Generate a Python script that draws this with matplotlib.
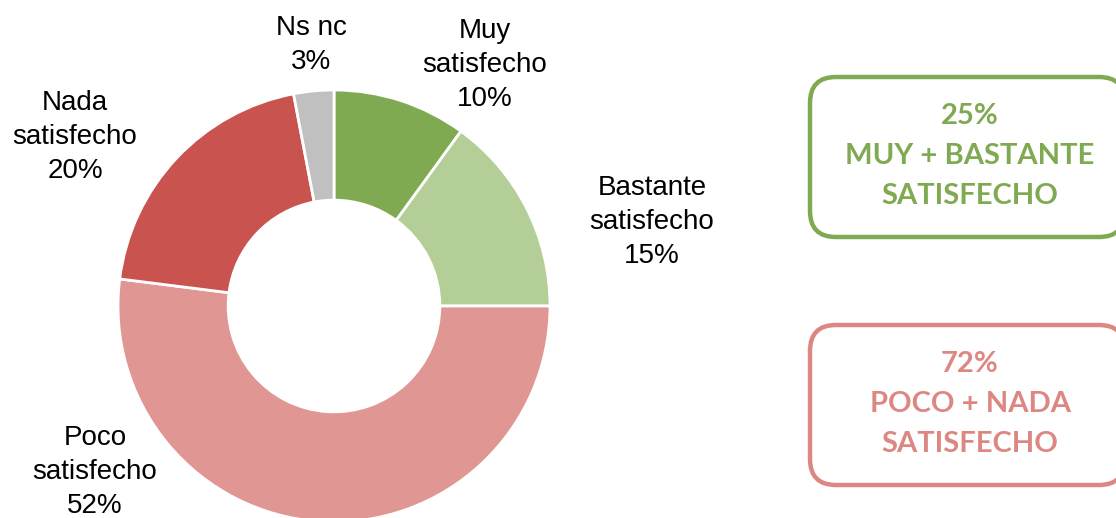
import matplotlib.pyplot as plt
from matplotlib.patches import FancyBboxPatch

# slices, clockwise from the top
labels = ["Muy\nsatisfecho", "Bastante\nsatisfecho", "Poco\nsatisfecho", "Nada\nsatisfecho", "Ns nc"]
values = [10, 15, 52, 20, 3]
colors = ["#7FAA52", "#B3CF97", "#E09794", "#C9534F", "#C0C0C0"]

# label positions in pixels (x, y from top)
label_pos = [(485, 65), (652, 222), (95, 472), (75, 137), (311, 45)]

box_texts = ["25%\nMUY + BASTANTE\nSATISFECHO", "72%\nPOCO + NADA\nSATISFECHO"]
box_colors = ["#7FAA52", "#DC8782"]

W, H = 1116, 518
fig = plt.figure(figsize=(W / 100, H / 100), dpi=100)
ax = fig.add_axes([0, 0, 1, 1])
ax.set_xlim(0, W)
ax.set_ylim(0, H)
ax.set_aspect("equal")
ax.axis("off")

cx, cy, R = 334, H - 306, 216
ax.pie(values, colors=colors, startangle=90, counterclock=False,
       center=(cx, cy), radius=R, frame=True,
       wedgeprops=dict(width=R * 0.51, edgecolor="white", linewidth=2))
ax.set_xlim(0, W)
ax.set_ylim(0, H)
ax.axis("off")

for lab, v, (x, y) in zip(labels, values, label_pos):
    ax.text(x, H - y, f"{lab}\n{v}%", ha="center", va="center",
            fontsize=20, family="Liberation Sans", color="#000000",
            linespacing=1.4)

# summary boxes
boxes = [(810, 77, 237), (810, 325, 485)]
for (x0, top, bot), txt, col in zip(boxes, box_texts, box_colors):
    p = FancyBboxPatch((x0, H - bot), 1125 - x0, bot - top,
                       boxstyle="round,pad=0,rounding_size=26",
                       fc="white", ec=col, lw=3.2, clip_on=False)
    ax.add_patch(p)
    ax.text(970, H - (top + bot) / 2 + 1, txt, ha="center", va="center",
            fontsize=21, family="Lato", weight="bold", color=col,
            linespacing=1.65)

fig.savefig("out.png", dpi=100)
